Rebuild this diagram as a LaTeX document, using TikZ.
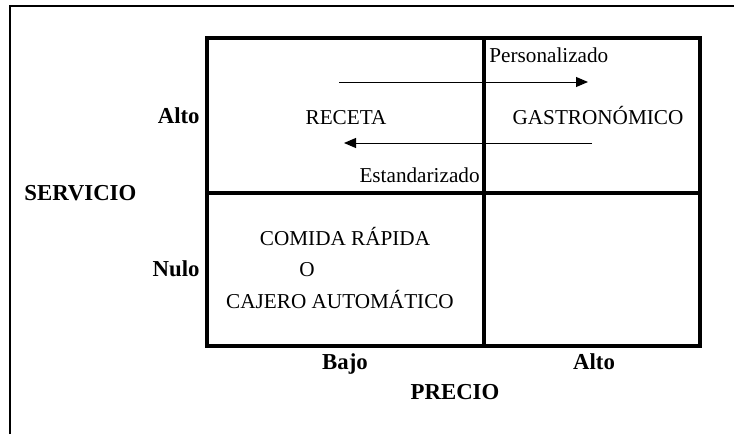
\documentclass[tikz,border=0pt]{standalone}
\usepackage{fontspec}
\setmainfont{Liberation Serif}
\usetikzlibrary{arrows.meta}

\tikzset{
  marco/.style={line width=1pt, black},
  rejilla/.style={line width=1.8pt, black},
  flecha/.style={line width=0.5pt, -{Triangle[length=6pt, width=5pt]}},
  etiqueta/.style={font=\fontsize{11.4}{13}\selectfont\bfseries, inner sep=0pt},
  texto/.style={font=\fontsize{10.6}{12}\selectfont, inner sep=0pt}
}

\begin{document}
\begin{tikzpicture}[x={(0.5pt,0)}, y={(0,-0.5pt)}]
\useasboundingbox (0,0) rectangle (734,434);
% Outer frame
\draw[marco] (10,434) -- (10,6) -- (734,6);

% Grid
\draw[rejilla] (207,38) rectangle (700,346);
\draw[rejilla] (207,193) -- (700,193);
\draw[rejilla] (484,38) -- (484,346);

% Axis labels
\node[etiqueta, anchor=base east] (servalto) at (200,123) {Alto};
\node[etiqueta, anchor=base east] (servnulo) at (200,276) {Nulo};
\node[etiqueta, anchor=base west] (servicio) at (24,200) {SERVICIO};
\node[etiqueta, anchor=base] (bajo) at (345,369) {Bajo};
\node[etiqueta, anchor=base] (precalto) at (594,369) {Alto};
\node[etiqueta, anchor=base] (precio) at (455,399) {PRECIO};

% Cells
\node[texto, anchor=base] (receta) at (346,124) {RECETA};
\node[texto, anchor=base] (gastro) at (598,124) {GASTRONÓMICO};
\node[texto, anchor=base] (comida) at (345,245) {COMIDA RÁPIDA};
\node[texto, anchor=base] (o) at (307,276) {O};
\node[texto, anchor=base] (cajero) at (340,308) {CAJERO AUTOMÁTICO};

% Arrows
\coordinate (pini) at (339,82);
\coordinate (pfin) at (588,82);
\coordinate (eini) at (592,143);
\coordinate (efin) at (344,143);
\draw[flecha] (pini) -- (pfin);
\draw[flecha] (eini) -- (efin);
\node[texto, anchor=base west] (personal) at (489,62) {Personalizado};
\node[texto, anchor=base east] (estandar) at (480,182) {Estandarizado};
\end{tikzpicture}
\end{document}
